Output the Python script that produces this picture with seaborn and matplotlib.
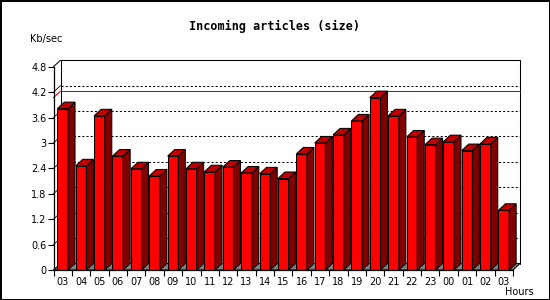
import numpy as np
import matplotlib
matplotlib.use("Agg")
import matplotlib.pyplot as plt
from matplotlib.patches import Polygon
import seaborn as sns

# data
hours = ["03", "04", "05", "06", "07", "08", "09", "10", "11", "12", "13", "14", "15",
         "16", "17", "18", "19", "20", "21", "22", "23", "00", "01", "02", "03"]
kbsec = [3.81, 2.46, 3.64, 2.69, 2.39, 2.22, 2.69, 2.39, 2.32, 2.43, 2.29, 2.27, 2.16,
         2.74, 3.00, 3.19, 3.52, 4.07, 3.64, 3.14, 2.96, 3.03, 2.82, 2.98, 1.41]
yticks = [0, 0.6, 1.2, 1.8, 2.4, 3, 3.6, 4.2, 4.8]
ytick_labels = ["0", "0.6", "1.2", "1.8", "2.4", "3", "3.6", "4.2", "4.8"]

sns.set_style("white")
plt.rcParams["font.family"] = ["DejaVu Sans"]
plt.rcParams["text.color"] = "black"
plt.rcParams["xtick.color"] = "black"
plt.rcParams["ytick.color"] = "black"

fig = plt.figure(figsize=(5.5, 3), dpi=100, facecolor="white",
                 edgecolor="black", linewidth=0.8)
W, H = 550, 300
ax = fig.add_axes([53.5 / W, 30 / H, 459.5 / W, 203.3 / H])
ax.set_facecolor("none")

pos = np.arange(len(kbsec))
ymax = 4.8
ax.set_xlim(-0.5, len(kbsec) - 0.5)
ax.set_ylim(0, ymax)

# depth of the fake 3d effect in data units (about 7px right, 6.5px up)
px_x = 459.5 / len(kbsec)
px_y = 203.3 / ymax
dx = 7 / px_x
dy = 6.5 / px_y
x0, x1 = -0.5, len(kbsec) - 0.5
lw = 0.75

# back wall, floor and grid
ax.plot([x0 + dx, x0 + dx, x1 + dx, x1 + dx], [dy, ymax + dy, ymax + dy, dy],
        color="black", lw=lw, clip_on=False, zorder=0.5)
ax.plot([x0, x0 + dx], [ymax, ymax + dy], color="black", lw=lw, clip_on=False, zorder=0.5)
floor = Polygon([(x0, 0), (x1, 0), (x1 + dx, dy), (x0 + dx, dy)], closed=True,
                facecolor="#808080", edgecolor="black", lw=lw, clip_on=False, zorder=0.6)
ax.add_patch(floor)
for v in yticks[1:-1]:
    ax.plot([x0 + dx, x1 + dx], [v + dy, v + dy], color="black", lw=lw,
            ls=(0, (2, 2)), clip_on=False, zorder=0.5)
    ax.plot([x0, x0 + dx], [v, v + dy], color="black", lw=0.6, clip_on=False, zorder=0.5)

# max line
top = max(kbsec)
ax.plot([x0 + dx, x1 + dx], [top + dy, top + dy], color="#e00000", lw=lw,
        clip_on=False, zorder=0.7)
ax.plot([x0, x0 + dx], [top, top + dy], color="#e00000", lw=lw, clip_on=False, zorder=0.7)

# front faces
sns.barplot(x=pos, y=kbsec, native_scale=True, width=0.58, color="#ff0000",
            saturation=1, edgecolor="black", linewidth=lw, ax=ax, zorder=2)

# side and top faces built from the bars seaborn drew
for bar in list(ax.patches):
    if bar is floor:
        continue
    bx, bw, bh = bar.get_x(), bar.get_width(), bar.get_height()
    side = Polygon([(bx + bw, 0), (bx + bw + dx, dy), (bx + bw + dx, bh + dy), (bx + bw, bh)],
                   closed=True, facecolor="#800000", edgecolor="black", lw=lw,
                   clip_on=False, zorder=2)
    lid = Polygon([(bx, bh), (bx + bw, bh), (bx + bw + dx, bh + dy), (bx + dx, bh + dy)],
                  closed=True, facecolor="#c00000", edgecolor="black", lw=lw,
                  clip_on=False, zorder=2)
    ax.add_patch(side)
    ax.add_patch(lid)

sns.despine(ax=ax, top=True, right=True)
for s in ["left", "bottom"]:
    ax.spines[s].set_color("black")
    ax.spines[s].set_linewidth(0.9)
    ax.spines[s].set_zorder(3)

ax.set_yticks(yticks, labels=ytick_labels)
ax.set_xticks(pos, labels=hours)
ax.set_xticks(np.arange(len(kbsec) + 1) - 0.5, minor=True)
ax.tick_params(axis="y", length=4, width=0.8, colors="black", labelsize=7, pad=1,
               left=True)
ax.tick_params(axis="x", which="major", length=0, labelsize=7, pad=5, colors="black")
ax.tick_params(axis="x", which="minor", length=4, width=0.8, color="black", bottom=True)
ax.set_xlabel("")
ax.set_ylabel("")

fig.text(274.5 / W, 1 - 26.5 / H, "Incoming articles (size)", ha="center", va="center",
         fontsize=8.5, fontweight="bold", family="DejaVu Sans Mono", color="black")
fig.text(30 / W, 1 - 39 / H, "Kb/sec", ha="left", va="center", fontsize=7, color="black")
fig.text(534 / W, 1 - 292 / H, "Hours", ha="right", va="center", fontsize=7, color="black")

fig.savefig("out.png", dpi=100, facecolor="white", edgecolor="black")
